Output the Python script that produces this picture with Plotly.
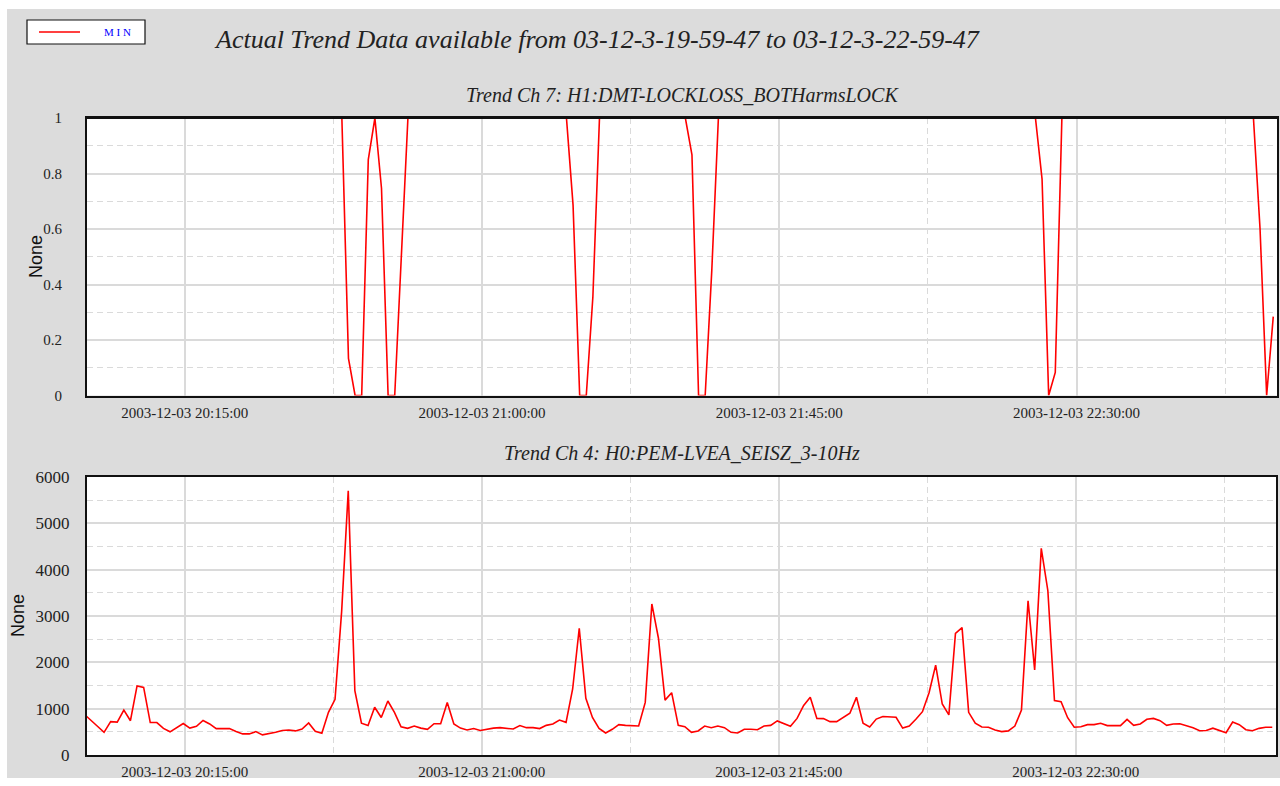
import pandas as pd
import plotly.graph_objects as go

# ---- data: one-minute MIN trend samples, 2003-12-03 19:59:47 .. 22:59:47 ----
sample_start = "2003-12-03 19:59:47"
n_samples = 181

# H1:DMT-LOCKLOSS_BOTHarmsLOCK (1 = locked) -- values that differ from 1
lock_dropouts = {
    40: 0.134, 41: 0.0, 42: 0.0, 43: 0.85, 45: 0.747, 46: 0.0, 47: 0.0, 48: 0.5,
    74: 0.686, 75: 0.0, 76: 0.0, 77: 0.356,
    92: 0.867, 93: 0.0, 94: 0.0, 95: 0.45,
    145: 0.78, 146: 0.0, 147: 0.083,
    178: 0.6, 179: 0.0, 180: 0.284,
}
lock_values = [lock_dropouts.get(i, 1.0) for i in range(n_samples)]

# H0:PEM-LVEA_SEISZ_3-10Hz
seis_values = [
    880, 760, 620, 490, 720, 710, 970, 740, 1490, 1460,
    700, 700, 575, 500, 590, 680, 580, 620, 745, 670,
    570, 565, 570, 505, 455, 455, 505, 435, 460, 490,
    530, 540, 520, 560, 690, 510, 470, 920, 1200, 3100,
    5705, 1390, 685, 635, 1030, 810, 1165, 920, 610, 575,
    625, 580, 555, 675, 675, 1135, 670, 580, 540, 570,
    530, 560, 580, 590, 580, 560, 635, 590, 590, 570,
    640, 670, 755, 705, 1425, 2735, 1225, 810, 575, 475,
    555, 655, 640, 625, 625, 1135, 3260, 2520, 1185, 1345,
    640, 610, 490, 520, 625, 590, 625, 590, 490, 475,
    555, 555, 545, 625, 640, 735, 675, 620, 790, 1070,
    1245, 790, 785, 720, 720, 805, 900, 1245, 685, 605,
    775, 830, 815, 815, 580, 625, 770, 935, 1345, 1940,
    1100, 865, 2625, 2750, 920, 685, 605, 600, 540, 505,
    520, 625, 970, 3330, 1835, 4460, 3545, 1175, 1150, 805,
    600, 610, 655, 655, 685, 635, 635, 635, 770, 640,
    670, 770, 790, 740, 640, 670, 675, 635, 590, 525,
    530, 580, 530, 480, 710, 655, 545, 525, 575, 600,
    600,
]

times = pd.date_range(sample_start, periods=n_samples, freq="min")

main_title = "Actual Trend Data available from 03-12-3-19-59-47 to 03-12-3-22-59-47"
top_title = "Trend Ch 7: H1:DMT-LOCKLOSS_BOTHarmsLOCK"
bottom_title = "Trend Ch 4: H0:PEM-LVEA_SEISZ_3-10Hz"
y_title = "None"
legend_label = "M I N"

W, H = 1280, 786
BG = "#dcdcdc"
GRID = "#dadada"
SERIF = "Liberation Serif, Times New Roman, serif"
SANS = "Liberation Sans, Arial, sans-serif"


def px(x):
    return x / W


def py(y):
    return 1 - y / H


fig = go.Figure()
fig.add_trace(go.Scatter(x=times, y=lock_values, mode="lines",
                         line=dict(color="#ff0000", width=1.6),
                         xaxis="x", yaxis="y", showlegend=False))
fig.add_trace(go.Scatter(x=times, y=seis_values, mode="lines",
                         line=dict(color="#ff0000", width=1.6),
                         xaxis="x2", yaxis="y2", showlegend=False))

x_range = ["2003-12-03 20:00:12", "2003-12-03 23:00:21"]


def time_axis(domain, anchor):
    return dict(
        domain=domain, anchor=anchor, type="date", range=x_range,
        tick0="2003-12-03 20:15:00", dtick=45 * 60 * 1000,
        tickformat="%Y-%m-%d %H:%M:%S",
        tickfont=dict(family=SERIF, size=15, color="#222"),
        showgrid=True, gridcolor=GRID, gridwidth=1.5,
        minor=dict(tick0="2003-12-03 20:15:00", dtick=22.5 * 60 * 1000,
                   showgrid=True, gridcolor=GRID, gridwidth=1.2,
                   griddash="6px,4px"),
        showline=True, linecolor="#111", linewidth=2, mirror=True,
        ticks="", zeroline=False, ticklabelstandoff=2, automargin=False,
    )


fig.update_layout(
    width=W, height=H,
    margin=dict(l=0, r=0, t=0, b=0, autoexpand=False),
    paper_bgcolor=BG, plot_bgcolor="white",
    showlegend=False,
    xaxis=time_axis([px(87), px(1277)], "y"),
    yaxis=dict(domain=[py(395.5), py(118)], anchor="x", range=[0, 1],
               dtick=0.2, tick0=0,
               tickfont=dict(family=SERIF, size=15, color="#222"),
               showgrid=True, gridcolor=GRID, gridwidth=1.5,
               minor=dict(dtick=0.1, tick0=0, showgrid=True, gridcolor=GRID,
                          gridwidth=1.2, griddash="6px,4px"),
               showline=True, linecolor="#111", linewidth=2, mirror=True,
               ticks="", zeroline=False, ticklabelstandoff=20,
               automargin=False),
    xaxis2=time_axis([px(87), px(1276)], "y2"),
    yaxis2=dict(domain=[py(755), py(477)], anchor="x2", range=[0, 6000],
                dtick=1000, tick0=0, tickformat="d",
                tickfont=dict(family=SERIF, size=17, color="#222"),
                showgrid=True, gridcolor=GRID, gridwidth=1.5,
                minor=dict(dtick=500, tick0=0, showgrid=True, gridcolor=GRID,
                           gridwidth=1.2, griddash="6px,4px"),
                showline=True, linecolor="#111", linewidth=2, mirror=True,
                ticks="", zeroline=False, ticklabelstandoff=12,
                automargin=False),
)

# white page border (top, left, bottom) around the grey panel
for x0, x1, y0, y1 in [(0, W, 0, 9), (0, 7, 0, H), (0, W, 778, H)]:
    fig.add_shape(type="rect", xref="paper", yref="paper",
                  x0=px(x0), x1=px(x1), y0=py(y1), y1=py(y0),
                  fillcolor="white", line=dict(width=0), layer="below")

# top frame edge of the lock panel drawn over the "locked" level
fig.add_shape(type="line", xref="paper", yref="paper",
              x0=px(86), x1=px(1278), y0=py(118.4), y1=py(118.4),
              line=dict(color="#111", width=1.1), layer="above")

# legend box
fig.add_shape(type="rect", xref="paper", yref="paper",
              x0=px(27), x1=px(145), y0=py(44), y1=py(20),
              fillcolor="white", line=dict(color="#111", width=1.2))
fig.add_shape(type="line", xref="paper", yref="paper",
              x0=px(39), x1=px(80), y0=py(32), y1=py(32),
              line=dict(color="#ff0000", width=1.3))

annotations = [
    dict(text=legend_label, x=px(117), y=py(32),
         font=dict(family=SERIF, size=11, color="#0000ff")),
    dict(text=f"<i>{main_title}</i>", x=px(597), y=py(39),
         font=dict(family=SERIF, size=26, color="#222")),
    dict(text=f"<i>{top_title}</i>", x=px(682), y=py(95),
         font=dict(family=SERIF, size=20, color="#222")),
    dict(text=f"<i>{bottom_title}</i>", x=px(682), y=py(453),
         font=dict(family=SERIF, size=20, color="#222")),
    dict(text=y_title, x=px(36), y=py(257), textangle=-90,
         font=dict(family=SANS, size=18, color="#111")),
    dict(text=y_title, x=px(18), y=py(616), textangle=-90,
         font=dict(family=SANS, size=18, color="#111")),
]
for a in annotations:
    a.update(xref="paper", yref="paper", showarrow=False,
             xanchor="center", yanchor="middle")
fig.update_layout(annotations=annotations)

fig.write_html("out.html")
